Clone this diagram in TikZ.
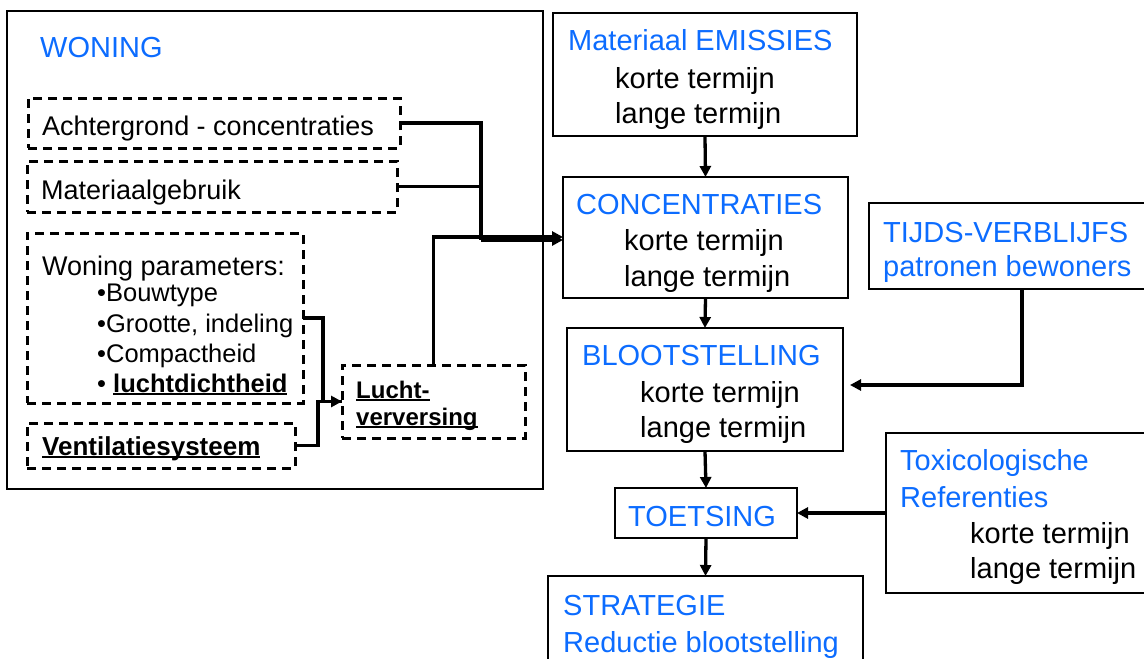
\documentclass[tikz,border=0pt]{standalone}
\usepackage{fontspec}
\setmainfont{Liberation Sans}
\usetikzlibrary{arrows.meta}
\definecolor{hblue}{RGB}{12,108,255}
\newcommand\myuline[1]{\setbox0\hbox{#1}\rlap{\rule[-3pt]{\wd0}{1.8pt}}\box0}
\begin{document}
\begin{tikzpicture}[x=1pt,y=-1pt,
  box/.style={draw, line width=1.5pt, inner sep=0pt, outer sep=0pt},
  dbox/.style={draw, line width=3pt, dash pattern=on 9pt off 6pt, inner sep=0pt, outer sep=0pt},
  txt/.style={inner sep=0pt, anchor=base west, font=\fontsize{29}{34}\selectfont},
  ltxt/.style={inner sep=0pt, anchor=base west, font=\fontsize{27}{32}\selectfont},
  stxt/.style={inner sep=0pt, anchor=base west, font=\fontsize{25.5}{30}\selectfont},
  btxt/.style={inner sep=0pt, anchor=base west, font=\fontsize{24}{29}\selectfont\bfseries},
  hd/.style={text=hblue},
  conn/.style={draw, line width=3.3pt},
  arr/.style={-{Triangle[length=11pt,width=11pt]}}
]
\useasboundingbox (0,0) rectangle (1144,659);
% boxes
\node[box, minimum width=536pt, minimum height=478pt] (woning) at (275,250) {};
\node[dbox, minimum width=372pt, minimum height=50pt] (achter) at (214,123) {};
\node[dbox, minimum width=370pt, minimum height=51pt] (matg) at (212,186.5) {};
\node[dbox, minimum width=276pt, minimum height=170pt] (params) at (165,318) {};
\node[dbox, minimum width=268pt, minimum height=45pt] (vent) at (161,445.5) {};
\node[dbox, minimum width=183pt, minimum height=73pt] (lucht) at (433.5,401.5) {};
\node[box, minimum width=304pt, minimum height=123pt] (emis) at (705,74.5) {};
\node[box, minimum width=285pt, minimum height=121pt] (conc) at (705.5,237.5) {};
\node[box, minimum width=306pt, minimum height=86pt] (tijds) at (1022,246) {};
\node[box, minimum width=276pt, minimum height=123pt] (bloot) at (705,389.5) {};
\node[box, minimum width=182pt, minimum height=50pt] (toets) at (706,513) {};
\node[box, minimum width=274pt, minimum height=160pt] (tox) at (1023,513) {};
\node[box, minimum width=315pt, minimum height=144pt] (strat) at (705.5,648) {};
% texts
\node[txt,hd] (tWon) at (40,57) {WONING};
\node[ltxt] (tAch) at (42,135) {Achtergrond - concentraties};
\node[ltxt] (tMat) at (41,199) {Materiaalgebruik};
\node[ltxt] (tPar) at (42,275) {Woning parameters:};
\node[stxt] (tP1) at (97,301) {•Bouwtype};
\node[stxt] (tP2) at (97,332) {•Grootte, indeling};
\node[stxt] (tP3) at (97,362) {•Compactheid};
\node[stxt] (tP4) at (97,392) {• \myuline{\bfseries luchtdichtheid}};
\node[inner sep=0pt, anchor=base west, font=\fontsize{26}{30}\selectfont\bfseries] (tVen) at (42,455) {\myuline{Ventilatiesysteem}};
\node[btxt] (tLu1) at (356,398) {\myuline{Lucht-}};
\node[btxt] (tLu2) at (356,425) {\myuline{verversing}};
\node[txt,hd] (tEm) at (568,50) {Materiaal EMISSIES};
\node[txt] (tEm1) at (615,88) {korte termijn};
\node[txt] (tEm2) at (615,123) {lange termijn};
\node[txt,hd] (tCo) at (576,214) {CONCENTRATIES};
\node[txt] (tCo1) at (624,250) {korte termijn};
\node[txt] (tCo2) at (624,286) {lange termijn};
\node[txt,hd] (tBl) at (582,365) {BLOOTSTELLING};
\node[txt] (tBl1) at (640,402) {korte termijn};
\node[txt] (tBl2) at (640,437) {lange termijn};
\node[txt,hd] (tTo) at (628,526) {TOETSING};
\node[txt,hd] (tTi) at (883,242) {TIJDS-VERBLIJFS};
\node[txt,hd] (tTi2) at (883,276) {patronen bewoners};
\node[txt,hd] (tTx) at (900,470) {Toxicologische};
\node[txt,hd] (tTx2) at (900,507) {Referenties};
\node[txt] (tTx3) at (970,543) {korte termijn};
\node[txt] (tTx4) at (970,578) {lange termijn};
\node[txt,hd] (tSt) at (563,615) {STRATEGIE};
\node[txt,hd] (tSt2) at (563,652) {Reductie blootstelling};
% connectors
\coordinate (j1) at (481,240);
\coordinate (j2) at (434,237);
\coordinate (gs) at (303,318);
\coordinate (tin) at (850,385);
\draw[conn] (achter.east) -| (j1);
\draw[conn] (matg.east) -- (matg.east -| j1);
\draw[conn,arr] (lucht.north) |- (j2 -| conc.west);
\draw[conn,arr] (j1) -- (j1 -| conc.west);
\draw[conn] (gs) -| ([xshift=-19pt]lucht.west) -- (lucht.west);
\draw[conn,arr] (vent.east) -| ([xshift=-24pt]lucht.west) -- (lucht.west);
\draw[conn,arr] (emis.south) -- (conc.north);
\draw[conn,arr] (conc.south) -- (bloot.north);
\draw[conn,arr] (bloot.south) -- (toets.north);
\draw[conn,arr] (toets.south) -- (strat.north);
\draw[conn,arr] (tijds.south) |- (tin);
\draw[conn,arr] (tox.west) -- (toets.east);
\end{tikzpicture}
\end{document}
